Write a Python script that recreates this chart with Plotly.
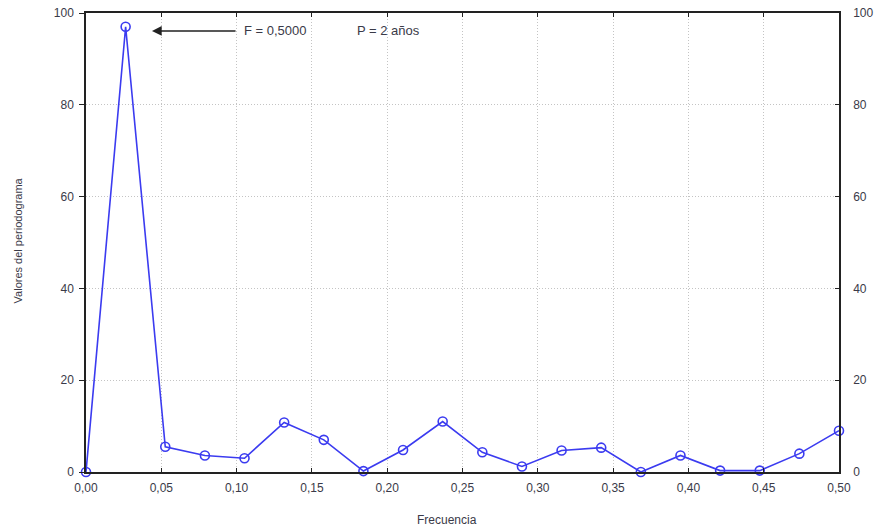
import plotly.graph_objects as go

freq = [k / 38 for k in range(20)]
periodogram = [0.0, 97.0, 5.5, 3.6, 3.0, 10.8, 7.0, 0.2, 4.8, 11.0, 4.3, 1.2, 4.7, 5.3, 0.0, 3.6, 0.3, 0.3, 4.0, 9.0]
x_ticks = [0.0, 0.05, 0.10, 0.15, 0.20, 0.25, 0.30, 0.35, 0.40, 0.45, 0.50]
y_ticks = [0, 20, 40, 60, 80, 100]

blue = "#3b3bf0"
txt = "#3a3a48"
font = dict(family="Liberation Sans, Arial, sans-serif", size=12, color=txt)

fig = go.Figure()
fig.add_trace(go.Scatter(
    x=freq, y=periodogram, mode="lines+markers",
    line=dict(color=blue, width=1.6),
    marker=dict(symbol="circle-open", size=9, color=blue, line=dict(width=1.6)),
    cliponaxis=False, showlegend=False,
))
fig.add_trace(go.Scatter(x=[freq[0]], y=[periodogram[0]], yaxis="y2", mode="markers",
                         marker=dict(opacity=0), showlegend=False, hoverinfo="skip"))

grid = dict(showgrid=True, gridcolor="#c4c4c4", griddash="1px,2px", gridwidth=1)
fig.update_layout(
    width=880, height=531,
    margin=dict(l=86, r=41, t=13, b=59),
    paper_bgcolor="white", plot_bgcolor="white",
    separators=", ",
    font=font,
    xaxis=dict(range=[0, 0.5], tickvals=x_ticks, tickformat=".2f", automargin=False,
               showline=True, linecolor="#222222", linewidth=1.5, mirror="ticks",
               ticks="inside", ticklen=4, tickcolor="#222222", ticklabelstandoff=4,
               ticklabeloverflow="allow", zeroline=False, **grid),
    yaxis=dict(range=[0, 100], tickvals=y_ticks, automargin=False,
               showline=True, linecolor="#222222", linewidth=1.5,
               ticks="outside", ticklen=5, tickcolor="#222222", ticklabelstandoff=3,
               ticklabeloverflow="allow", zeroline=False, **grid),
    yaxis2=dict(range=[0, 100], tickvals=y_ticks, overlaying="y", side="right", automargin=False,
                showline=True, linecolor="#222222", linewidth=1.5,
                ticks="inside", ticklen=4, tickcolor="#222222", ticklabelstandoff=10,
                ticklabeloverflow="allow", showgrid=False, zeroline=False),
)

# axis titles
fig.add_annotation(x=0.479, y=-0.105, xref="paper", yref="paper", showarrow=False,
                   xanchor="center", yanchor="middle",
                   text="Frecuencia", font=dict(size=12, color=txt))
fig.add_annotation(x=-0.090, y=0.505, xref="paper", yref="paper", showarrow=False,
                   xanchor="center", yanchor="middle",
                   text="Valores del periodograma", textangle=-90, font=dict(size=11, color=txt))

# peak annotation
fig.add_annotation(x=0.0438, y=96.1, ax=0.1003, ay=96.1, axref="x", ayref="y",
                   xref="x", yref="y", text="", showarrow=True,
                   arrowhead=2, arrowsize=1.3, arrowwidth=1.5, arrowcolor="#222222")
fig.add_annotation(x=0.1036, y=96.1, xref="x", yref="y", xanchor="left", showarrow=False,
                   text="F = 0,5000", font=dict(size=13, color=txt))
fig.add_annotation(x=0.1786, y=96.1, xref="x", yref="y", xanchor="left", showarrow=False,
                   text="P = 2 años", font=dict(size=13, color=txt))

fig.write_html("out.html", config={"displayModeBar": False},
               post_script="document.body.style.margin='0';document.body.style.overflow='hidden';")
